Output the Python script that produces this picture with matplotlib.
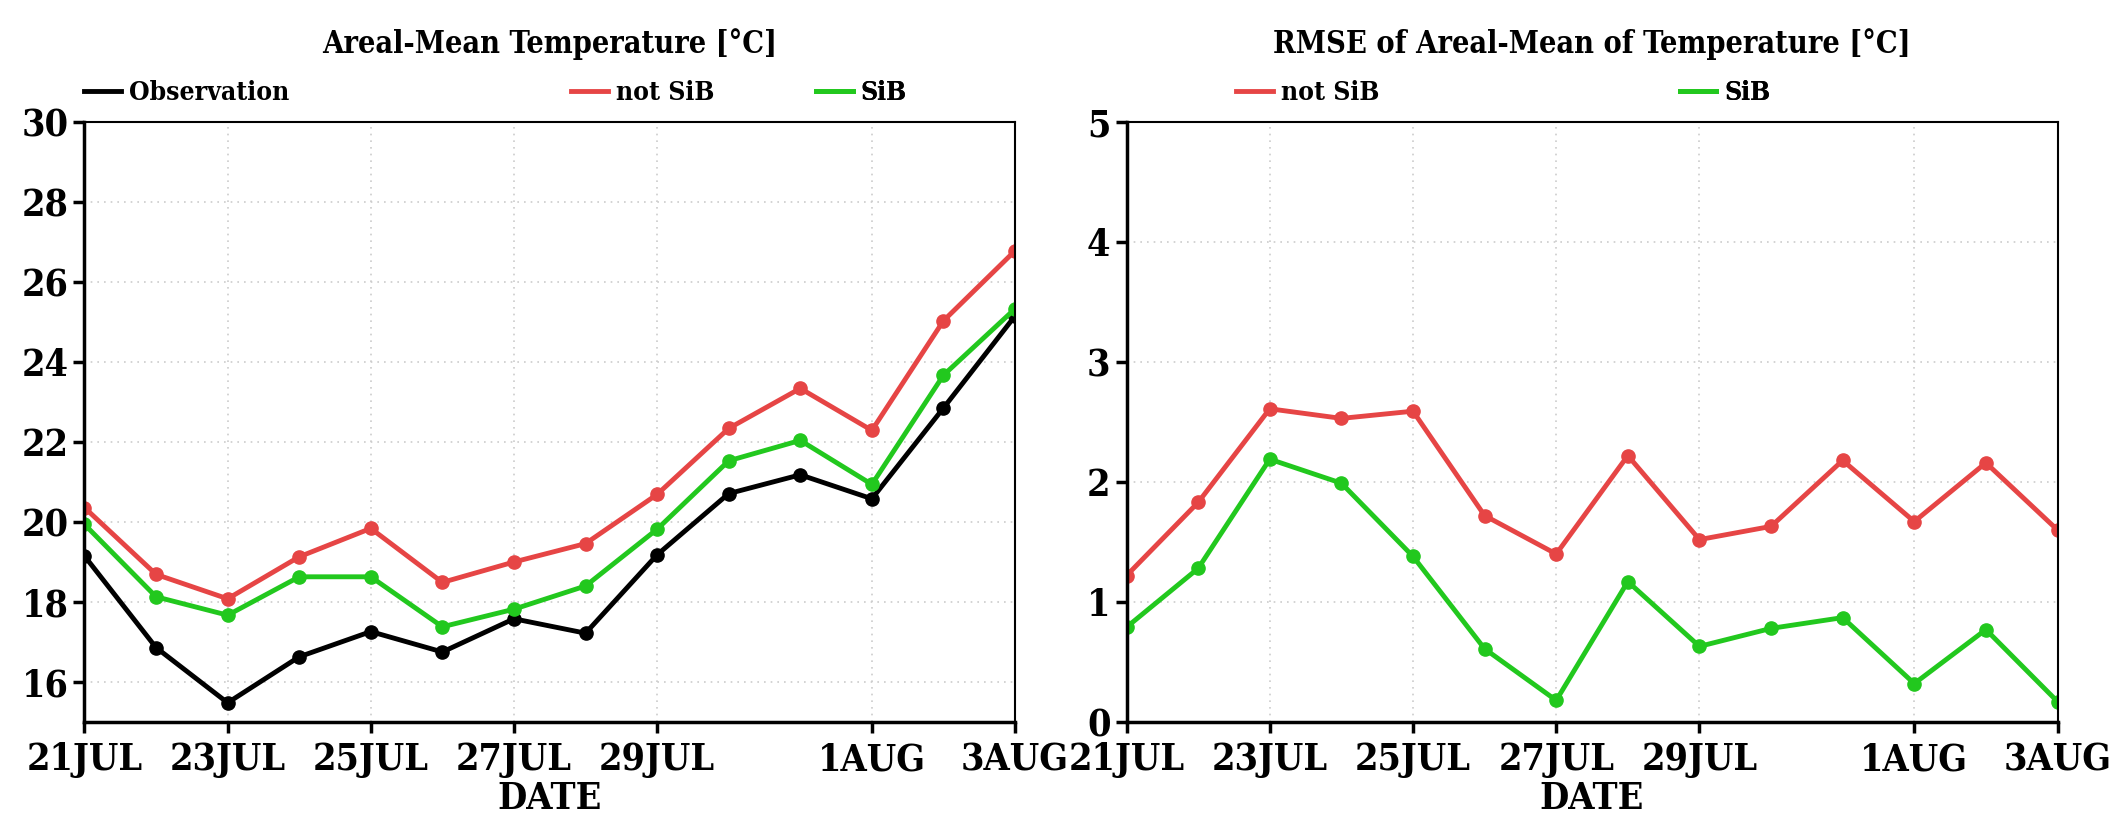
import matplotlib
matplotlib.use("Agg")
import matplotlib.pyplot as plt
import numpy as np

# days 21JUL .. 3AUG
days = np.arange(14)
tick_pos = [0, 2, 4, 6, 8, 11, 13]
tick_labels = ['21JUL', '23JUL', '25JUL', '27JUL', '29JUL', '1AUG', '3AUG']

obs = [19.15, 16.86, 15.48, 16.63, 17.26, 16.75, 17.58, 17.22, 19.18, 20.71, 21.18, 20.58, 22.85, 25.15]
temp_notsib = [20.36, 18.69, 18.08, 19.13, 19.84, 18.49, 19.0, 19.46, 20.69, 22.34, 23.34, 22.29, 25.03, 26.78]
temp_sib = [19.94, 18.13, 17.67, 18.63, 18.63, 17.38, 17.82, 18.4, 19.82, 21.53, 22.04, 20.94, 23.67, 25.33]

rmse_notsib = [1.22, 1.83, 2.61, 2.53, 2.59, 1.72, 1.40, 2.22, 1.52, 1.63, 2.18, 1.67, 2.16, 1.60]
rmse_sib = [0.79, 1.28, 2.19, 1.99, 1.38, 0.61, 0.18, 1.17, 0.63, 0.78, 0.87, 0.32, 0.77, 0.17]

RED = '#e64545'
GREEN = '#22c81e'

plt.rcParams['font.family'] = ['DejaVu Serif']
plt.rcParams['font.stretch'] = 'condensed'
plt.rcParams['font.weight'] = 'bold'
plt.rcParams['axes.titleweight'] = 'bold'
plt.rcParams['axes.labelweight'] = 'bold'

fig = plt.figure(figsize=(21.12, 8.21), dpi=100)
ax1 = fig.add_axes([0.0400, 0.1206, 0.4406, 0.7308])
ax2 = fig.add_axes([0.5334, 0.1206, 0.4408, 0.7308])


def style(ax):
    ax.set_xlim(0, 13)
    ax.set_xticks(tick_pos)
    ax.set_xticklabels(tick_labels)
    ax.grid(True, color='#cccccc', linestyle=(0, (1, 3)), linewidth=1.2)
    ax.tick_params(axis='both', direction='out', length=8, width=2.5,
                   labelsize=27, top=False, right=False)
    ax.tick_params(axis='x', pad=6)
    for s in ax.spines.values():
        s.set_linewidth(1.5)
    ax.spines['bottom'].set_linewidth(2.5)
    ax.spines['left'].set_linewidth(2.5)
    ax.set_xlabel('DATE', fontsize=27, labelpad=1)


kw = dict(linewidth=3.5, marker='o', markersize=9.5)

l_obs, = ax1.plot(days, obs, color='black', **kw)
l_ns, = ax1.plot(days, temp_notsib, color=RED, **kw)
l_s, = ax1.plot(days, temp_sib, color=GREEN, **kw)
style(ax1)
ax1.set_ylim(15, 30)
ax1.set_yticks([16, 18, 20, 22, 24, 26, 28, 30])
ax1.set_title('Areal-Mean Temperature [°C]', fontsize=22, pad=50)

r_ns, = ax2.plot(days, rmse_notsib, color=RED, **kw)
r_s, = ax2.plot(days, rmse_sib, color=GREEN, **kw)
style(ax2)
ax2.set_ylim(0, 5)
ax2.set_yticks([0, 1, 2, 3, 4, 5])
ax2.set_title('RMSE of Areal-Mean of Temperature [°C]', fontsize=22, pad=50)

leg_kw = dict(frameon=False, fontsize=19, handlelength=1.4, handletextpad=0.3,
              borderaxespad=0, borderpad=0, loc='lower left')
for ax, items in [(ax1, [(l_obs, 'Observation', 0.0), (l_ns, 'not SiB', 0.523), (l_s, 'SiB', 0.786)]),
                  (ax2, [(r_ns, 'not SiB', 0.118), (r_s, 'SiB', 0.594)])]:
    for h, lab, xpos in items:
        lg = ax.legend([h], [lab], bbox_to_anchor=(xpos, 1.028), **leg_kw)
        lg.legend_handles[0].set_marker('')
        ax.add_artist(lg)

fig.savefig('out.png', dpi=100)
